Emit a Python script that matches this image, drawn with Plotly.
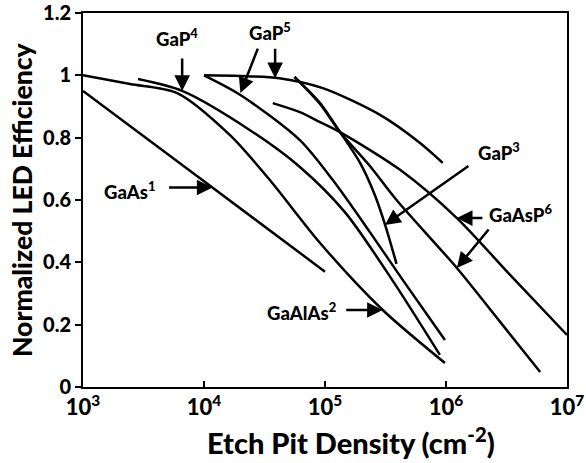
import math
import plotly.graph_objects as go

# Etch pit density (cm^-2) and normalized LED efficiency for each data set
gaas1_x = [1e3, 1e4, 1e5]
gaas1_y = [0.95, 0.66, 0.37]

gaalas2_x = [1e3, 2.45e3, 6.0e3, 1.64e4, 3.5e4, 9.1e4, 3.0e5, 9.8e5]
gaalas2_y = [1.00, 0.972, 0.943, 0.808, 0.664, 0.462, 0.247, 0.077]

gap4_x = [2.85e3, 6.6e3, 2.4e4, 6.2e4, 1.46e5, 3.6e5, 8.9e5]
gap4_y = [0.988, 0.950, 0.824, 0.706, 0.561, 0.343, 0.103]

gap5a_x = [1e4, 2.0e4, 4.2e4, 9.6e4, 2.85e5, 6.1e5, 9.4e5]
gap5a_y = [1.00, 0.998, 0.991, 0.959, 0.873, 0.783, 0.719]

gap5b_x = [1e4, 2.0e4, 6.2e4, 1.16e5, 2.35e5, 4.4e5, 9.8e5]
gap5b_y = [1.00, 0.937, 0.792, 0.664, 0.497, 0.343, 0.151]

gap3_x = [5.6e4, 9.1e4, 1.33e5, 1.95e5, 2.6e5, 3.2e5, 3.9e5]
gap3_y = [0.995, 0.911, 0.818, 0.719, 0.613, 0.510, 0.395]

gaasp6a_x = [3.7e4, 6.2e4, 9.1e4, 1.33e5, 4.2e5, 1.23e6, 3.4e6, 1e7]
gaasp6a_y = [0.911, 0.882, 0.850, 0.818, 0.696, 0.542, 0.359, 0.167]

gaasp6b_x = [5.6e4, 9.1e4, 1.33e5, 2.35e5, 3.9e5, 1.23e6, 2.8e6, 6.0e6]
gaasp6b_y = [0.995, 0.908, 0.818, 0.709, 0.600, 0.382, 0.209, 0.048]

x_tick_vals = [1e3, 1e4, 1e5, 1e6, 1e7]
x_tick_text = ["10<sup>3</sup>", "10<sup>4</sup>", "10<sup>5</sup>",
               "10<sup>6</sup>", "10<sup>7</sup>"]
y_tick_vals = [0, 0.2, 0.4, 0.6, 0.8, 1.0, 1.2]
y_tick_text = ["0", "0.2", "0.4", "0.6", "0.8", "1", "1.2"]

FONT = "Lato"
HEAVY = 900

series = [
    (gaas1_x, gaas1_y), (gaalas2_x, gaalas2_y), (gap4_x, gap4_y),
    (gap5a_x, gap5a_y), (gap5b_x, gap5b_y), (gap3_x, gap3_y),
    (gaasp6a_x, gaasp6a_y), (gaasp6b_x, gaasp6b_y),
]

fig = go.Figure()
for xs, ys in series:
    fig.add_trace(go.Scatter(
        x=xs, y=ys, mode="lines",
        line=dict(color="black", width=2.5, shape="spline", smoothing=0.8),
        showlegend=False, hoverinfo="skip",
    ))

# Curve labels: (text, x, y, xanchor)
labels = [
    ("GaAs<sup>1</sup>", 4.2e3, 0.629, "right"),
    ("GaAlAs<sup>2</sup>", 1.28e5, 0.241, "right"),
    ("GaP<sup>4</sup>", 6.0e3, 1.12, "center"),
    ("GaP<sup>5</sup>", 3.5e4, 1.142, "center"),
    ("GaP<sup>3</sup>", 2.74e6, 0.757, "center"),
    ("GaAsP<sup>6</sup>", 2.18e6, 0.558, "left"),
]
annotations = []
for text, x, y, xa in labels:
    annotations.append(dict(
        text=text, x=math.log10(x), y=y, xref="x", yref="y",
        xanchor=xa, yanchor="middle", showarrow=False,
        font=dict(family=FONT, size=18.5, color="black", weight=HEAVY),
    ))

# Arrows: tip (x, y) on a curve, tail offset (ax, ay) in pixels
arrows = [
    (1.175e4, 0.64, -45, 0),
    (3.0e5, 0.247, -38, 0),
    (6.6e3, 0.95, 0, -34),
    (2.0e4, 0.943, 18, -46),
    (3.87e4, 0.991, 0, -31),
    (3.13e5, 0.520, 85, -60),
    (1.23e6, 0.542, 27, 0),
    (1.23e6, 0.382, 33, -40),
]
for x, y, ax, ay in arrows:
    annotations.append(dict(
        text="", x=math.log10(x), y=y, xref="x", yref="y",
        ax=ax, ay=ay, showarrow=True, arrowhead=2, arrowsize=1.25,
        arrowwidth=2.5, arrowcolor="black", standoff=0,
    ))

# Axis titles (positions given in pixels, converted to paper units below)
annotations.append(dict(
    text="Etch Pit Density (cm<sup>-2</sup>)", x=351, y=441,
    xref="paper", yref="paper", showarrow=False,
    font=dict(family=FONT, size=29, color="black", weight=HEAVY),
))
annotations.append(dict(
    text="Normalized LED Efficiency", x=22, y=200, textangle=-90,
    xref="paper", yref="paper", showarrow=False,
    font=dict(family=FONT, size=26.5, color="black", weight=HEAVY),
))

W, H = 586, 463
L, R, T, B = 83, 19, 13, 76
pw, ph = W - L - R, H - T - B
for a in annotations[-2:]:
    a["x"] = (a["x"] - L) / pw
    a["y"] = (H - B - a["y"]) / ph
    a["xanchor"] = "center"
    a["yanchor"] = "middle"

fig.update_layout(
    width=W, height=H,
    margin=dict(l=L, r=R, t=T, b=B, autoexpand=False),
    paper_bgcolor="white", plot_bgcolor="white",
    font=dict(family=FONT, color="black"),
    annotations=annotations,
    xaxis=dict(
        type="log", range=[3, 7], tickvals=x_tick_vals, ticktext=x_tick_text,
        ticks="inside", ticklen=6, tickwidth=2, tickcolor="black",
        showline=True, linewidth=2, linecolor="black", mirror=True,
        showgrid=False, zeroline=False, automargin=False,
        tickfont=dict(family=FONT, size=22, color="black", weight=HEAVY),
    ),
    yaxis=dict(
        range=[0, 1.2], tickvals=y_tick_vals, ticktext=y_tick_text,
        ticks="outside", ticklen=6, tickwidth=2, tickcolor="black",
        showline=True, linewidth=2, linecolor="black", mirror=True,
        showgrid=False, zeroline=False, automargin=False,
        tickfont=dict(family=FONT, size=20, color="black", weight=HEAVY),
    ),
)

fig.write_html("out.html")
